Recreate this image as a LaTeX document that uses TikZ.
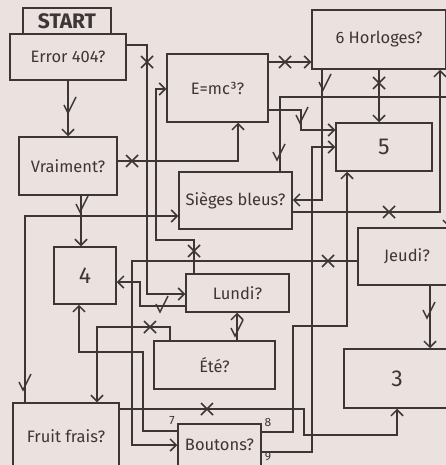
\documentclass[tikz,border=0pt]{standalone}
\usepackage{fontspec}
\setmainfont{Fira Sans}
\usetikzlibrary{arrows.meta}
\definecolor{paper}{RGB}{235,225,222}
\definecolor{ink}{RGB}{60,54,54}
\tikzset{
  box/.style 2 args={draw=ink, line width=1.5pt, minimum width=#1pt, minimum height=#2pt,
    inner sep=0pt, text=ink, font=\fontsize{16.5}{18}\selectfont},
  big/.style={font=\fontsize{23}{24}\selectfont},
  wire/.style={draw=ink, line width=1.5pt},
  flow/.style={wire, -{Straight Barb[length=6pt,width=12pt]}},
  tag/.style={text=ink, inner sep=0pt, font=\fontsize{12}{13}\selectfont},
  xmark/.pic={\draw[wire] (-6,-6) -- (6,6) (-6,6) -- (6,-6);},
  vmark/.pic={\draw[wire] (-4,-8) -- (0,0) -- (8,-16);}
}
\begin{document}
\begin{tikzpicture}[x=1pt,y=-1pt]
    \fill[paper] (0,0) rectangle (446,465);
    \useasboundingbox (0,0) rectangle (446,465);

    \node[box={88}{26}, font=\bfseries\fontsize{21}{22}\selectfont] (start) at (67,21) {START};
    \node[box={116}{46}] (err) at (68,57) {Error 404?};
    \node[box={101}{68}] (emc) at (217.5,88) {E=mc³?};
    \node[box={134}{59}] (horl) at (379,39.5) {6 Horloges?};
    \node[box={96}{48}, big] (five) at (384,147) {5};
    \node[box={98}{58}] (vrai) at (68,166) {Vraiment?};
    \node[box={62}{57}, big] (four) at (85,275.5) {4};
    \node[box={113}{57}] (sieg) at (235.5,200.5) {Sièges bleus?};
    \node[box={103}{38}] (lundi) at (237.5,293) {Lundi?};
    \node[box={121}{48}] (ete) at (214.5,365) {Été?};
    \node[box={98}{57}] (jeudi) at (407,256.5) {Jeudi?};
    \node[box={106}{59}, big] (three) at (397,378.5) {3};
    \node[box={106}{66}] (fruit) at (66,436) {Fruit frais?};
    \node[box={83}{42}] (bout) at (219.5,445) {Boutons?};

    \node[tag] (t7) at (172,421) {7};
    \node[tag] (t8) at (268,422) {8};
    \node[tag] (t9) at (268,457) {9};

    \draw[flow] (err) -- (vrai);
    \draw[flow] (err.east |- 0,45) -- (147,45) -- (147,294) -- (lundi.west |- 0,294);
    \draw[flow] (lundi.north -| 194,0) -- (194,240) -- (156,240) -- (156,89) -- (emc.west |- 0,89);
    \draw[flow] (vrai.east |- 0,161) -- (238,161) -- (emc.south -| 238,0);
    \draw[flow] (vrai.south -| 81,0) -- (four.north -| 81,0);
    \draw[flow] (emc.east |- 0,62) -- (horl.west |- 0,62);
    \draw[flow] (emc.east |- 0,110) -- (301,110) -- (301,130) -- (five.west |- 0,130);
    \draw[flow] (horl.south -| 379,0) -- (five.north -| 379,0);
    \draw[flow] (horl.south -| 322,0) -- (322,200) -- (sieg.east |- 0,200);
    \draw[flow] (sieg.east |- 0,212) -- (440,212) -- (horl.south -| 440,0);
    \draw[flow] (sieg.north -| 280,0) -- (280,97) -- (449,97) -- (jeudi.north -| 449,0);
    \draw[flow] (fruit.north -| 25,0) -- (25,216) -- (sieg.west |- 0,216);
    \draw[flow] (lundi.west |- 0,306) -- (140,306) -- (140,282) -- (four.east |- 0,282);
    \draw[flow] (ete.north -| 237,0) -- (lundi.south -| 237,0);
    \draw[flow] (ete.north -| 170,0) -- (170,327) -- (97,327) -- (fruit.north -| 97,0);
    \draw[flow] (jeudi.west |- 0,261) -- (132,261) -- (132,445) -- (bout.west |- 0,445);
    \draw[flow] (jeudi.south -| 430,0) -- (three.north -| 430,0);
    \draw[flow] (fruit.east |- 0,409) -- (304,409) -- (304,435) -- (397,435) -- (three.south -| 397,0);
    \draw[flow] (bout.west |- 0,431) -- (143,431) -- (143,352) -- (79,352) -- (four.south -| 79,0);
    \draw[flow] (bout.east |- 0,432) -- (293,432) -- (293,326) -- (347,326) -- (five.south -| 347,0);
    \draw[flow] (bout.east |- 0,452) -- (312,452) -- (312,147) -- (five.west |- 0,147);

    \pic at (68,113) {vmark};
    \pic at (80,212) {vmark};
    \pic at (300,123) {vmark};
    \pic at (323,90) {vmark};
    \pic at (277,160) {vmark};
    \pic at (23,390) {vmark};
    \pic at (160,312) {vmark};
    \pic at (235,336) {vmark};
    \pic at (427,318) {vmark};

    \pic at (147,62) {xmark};
    \pic at (194,251) {xmark};
    \pic at (132,161) {xmark};
    \pic at (285,62) {xmark};
    \pic at (379,83) {xmark};
    \pic at (389,212) {xmark};
    \pic at (150,327) {xmark};
    \pic at (328,261) {xmark};
    \pic at (207,409) {xmark};
\end{tikzpicture}
\end{document}
